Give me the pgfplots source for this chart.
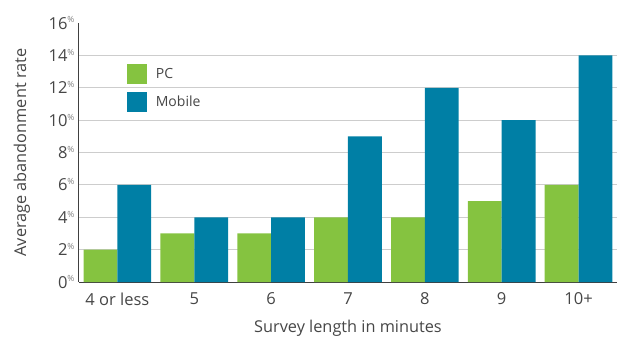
\documentclass[border=0pt]{standalone}
\usepackage{pgfplots}
\pgfplotsset{compat=1.18}
\usepackage{fontspec}
\setmainfont{Open Sans}
\definecolor{pcgreen}{RGB}{133,195,64}
\definecolor{mobblue}{RGB}{0,127,165}
\definecolor{txt}{RGB}{70,70,70}
\definecolor{gridc}{RGB}{205,205,205}
\begin{document}
\begin{tikzpicture}
\begin{axis}[
  scale only axis,
  width=538pt, height=259pt,
  xmin=-0.5, xmax=6.5, ymin=0, ymax=16,
  axis x line*=bottom, axis y line*=left,
  axis line style={-, draw=black!75, line width=1pt},
  xtick={0,...,6},
  xticklabels={4 or less,5,6,7,8,9,10+},
  major x tick style={draw=none},
  extra x ticks={-0.5,0.5,1.5,2.5,3.5,4.5,5.5,6.5},
  extra x tick labels={},
  extra x tick style={major tick length=4pt, tick align=outside, tick style={draw=black!75, line width=1pt}},
  ytick={0,2,...,16},
  major y tick style={draw=none},
  extra y ticks={2,4,...,14},
  extra y tick labels={},
  extra y tick style={ymajorgrids=true, major grid style={draw=gridc, line width=0.8pt}, major tick length=0pt},
  /pgf/number format/assume math mode=true,
  yticklabel={\pgfmathprintnumber{\tick}\raisebox{0.7ex}{\fontsize{8.5pt}{8.5pt}\selectfont\color{black!50}\%}},
  tick label style={font=\fontsize{16.5pt}{17pt}\selectfont, text=txt},
  xticklabel style={yshift=-3pt},
  yticklabel style={xshift=-1pt},
  xlabel={Survey length in minutes},
  ylabel={Average abandonment rate},
  label style={font=\fontsize{16.3pt}{17pt}\selectfont, text=txt},
  xlabel style={at={(rel axis cs:0.5,-0.178)}, anchor=center},
  ylabel style={at={(rel axis cs:-0.106,0.5)}, anchor=center},
  ybar, bar width=0.44,
  legend style={at={(0.083,0.849)}, anchor=north west, draw=none, fill=none,
    font=\fontsize{14pt}{14pt}\selectfont, text=txt, row sep=8pt,
    legend cell align=left, nodes={inner xsep=9pt}},
  legend image code/.code={\fill[#1] (0pt,-10pt) rectangle (20pt,10pt);},
]
\addplot[fill=pcgreen, draw=none, bar shift=-0.22] coordinates {(0,2) (1,3) (2,3) (3,4) (4,4) (5,5) (6,6)};
\addplot[fill=mobblue, draw=none, bar shift=0.22] coordinates {(0,6) (1,4) (2,4) (3,9) (4,12) (5,10) (6,14)};
\legend{PC, Mobile}
\coordinate (bl) at (rel axis cs:-0.1468,-0.2278);
\coordinate (tr) at (rel axis cs:1.0019,1.0888);
\end{axis}
\pgfresetboundingbox
\path (bl) rectangle (tr);
\end{tikzpicture}
\end{document}
